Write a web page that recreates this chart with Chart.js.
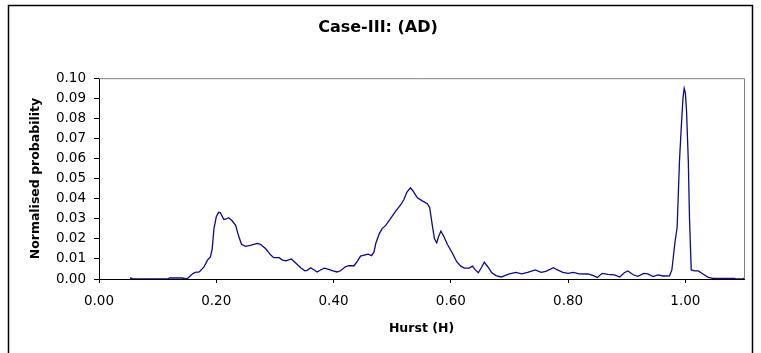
<!DOCTYPE html>
<html>
<head>
<meta charset="utf-8">
<script src="https://cdn.jsdelivr.net/npm/chart.js@4.4.1/dist/chart.umd.min.js"></script>
<style>
  html, body { margin: 0; padding: 0; background: #fff; }
</style>
</head>
<body>
<canvas id="hurstChart" width="761" height="353"></canvas>
<script>
// Hurst exponent values (x) and normalised probability (y)
var hurstValues = [
    0.053, 0.058, 0.065, 0.118, 0.120, 0.142, 0.150, 0.159, 0.164, 0.171,
    0.179, 0.185, 0.190, 0.193, 0.196, 0.200, 0.204, 0.207, 0.213, 0.217,
    0.221, 0.227, 0.233, 0.238, 0.243, 0.250, 0.258, 0.270, 0.275, 0.284,
    0.293, 0.298, 0.307, 0.313, 0.319, 0.328, 0.335, 0.344, 0.351, 0.355,
    0.361, 0.367, 0.372, 0.378, 0.384, 0.392, 0.399, 0.406, 0.412, 0.420,
    0.426, 0.435, 0.441, 0.446, 0.454, 0.459, 0.465, 0.469, 0.472, 0.478,
    0.483, 0.489, 0.498, 0.506, 0.515, 0.520, 0.525, 0.531, 0.535, 0.543,
    0.552, 0.560, 0.564, 0.568, 0.572, 0.576, 0.579, 0.583, 0.588, 0.594,
    0.603, 0.610, 0.617, 0.623, 0.631, 0.637, 0.641, 0.647, 0.653, 0.657,
    0.663, 0.670, 0.677, 0.686, 0.691, 0.700, 0.711, 0.721, 0.731, 0.744,
    0.754, 0.762, 0.775, 0.782, 0.791, 0.800, 0.809, 0.819, 0.834, 0.842,
    0.850, 0.858, 0.868, 0.879, 0.888, 0.896, 0.902, 0.911, 0.919, 0.929,
    0.936, 0.945, 0.953, 0.962, 0.973, 0.977, 0.982, 0.986, 0.990, 0.993,
    0.996, 0.998, 1.000, 1.002, 1.005, 1.007, 1.010, 1.016, 1.022, 1.030,
    1.039, 1.047, 1.084, 1.087, 1.098, 1.101
];
var probValues = [
    0.0005, 0.0002, 0, 0, 0.0005, 0.0005, 0, 0.0025, 0.0033, 0.0035,
    0.0060, 0.0094, 0.0110, 0.0149, 0.0250, 0.0310, 0.0332, 0.0330, 0.0296, 0.0299,
    0.0305, 0.0290, 0.0267, 0.0215, 0.0173, 0.0163, 0.0168, 0.0177, 0.0173, 0.0152,
    0.0119, 0.0106, 0.0106, 0.0094, 0.0090, 0.0100, 0.0081, 0.0056, 0.0041, 0.0043,
    0.0056, 0.0045, 0.0035, 0.0045, 0.0054, 0.0048, 0.0041, 0.0035, 0.0041, 0.0061,
    0.0066, 0.0066, 0.0090, 0.0114, 0.0120, 0.0124, 0.0116, 0.0135, 0.0177, 0.0226,
    0.0251, 0.0267, 0.0304, 0.0338, 0.0371, 0.0396, 0.0432, 0.0454, 0.0441, 0.0404,
    0.0388, 0.0375, 0.0355, 0.0276, 0.0201, 0.0180, 0.0210, 0.0238, 0.0213, 0.0173,
    0.0127, 0.0086, 0.0064, 0.0054, 0.0054, 0.0064, 0.0048, 0.0031, 0.0061, 0.0084,
    0.0061, 0.0031, 0.0017, 0.0010, 0.0016, 0.0026, 0.0033, 0.0026, 0.0033, 0.0045,
    0.0033, 0.0038, 0.0056, 0.0045, 0.0033, 0.0028, 0.0033, 0.0026, 0.0025, 0.0018,
    0.0008, 0.0028, 0.0023, 0.0021, 0.0010, 0.0031, 0.0040, 0.0021, 0.0013, 0.0028,
    0.0025, 0.0012, 0.0020, 0.0015, 0.0016, 0.0045, 0.0177, 0.0259, 0.0590, 0.0754,
    0.0903, 0.0949, 0.0927, 0.0837, 0.0590, 0.0308, 0.0045, 0.0040, 0.0040, 0.0025,
    0.0008, 0.0003, 0.0003, 0, 0, 0.0005
];
var xTickStep = 0.2;
var yTickStep = 0.01;

var points = hurstValues.map(function (h, i) {
    return { x: h, y: probValues[i] };
});

// outer frame + grey top/right plot border
var framePlugin = {
    id: "frame",
    afterDraw: function (chart) {
        var ctx = chart.ctx;
        var a = chart.chartArea;
        ctx.save();
        ctx.strokeStyle = "#808080";
        ctx.lineWidth = 1;
        ctx.beginPath();
        ctx.moveTo(a.left, a.top + 0.5);
        ctx.lineTo(a.right + 0.5, a.top + 0.5);
        ctx.lineTo(a.right + 0.5, a.bottom);
        ctx.stroke();
        ctx.strokeStyle = "#000";
        ctx.lineWidth = 1.5;
        ctx.strokeRect(8.5, 5.5, 744, 400);
        ctx.restore();
    }
};

var ctx = document.getElementById("hurstChart").getContext("2d");
var hurstChart = new Chart(ctx, {
    type: "line",
    data: {
        datasets: [{
            label: "Case-III: (AD)",
            data: points,
            borderColor: "#0a0a8a",
            borderWidth: 1.3,
            pointRadius: 0,
            tension: 0,
            fill: false
        }]
    },
    options: {
        responsive: false,
        animation: false,
        devicePixelRatio: 1,
        layout: { padding: { left: 12, right: 17, top: 0, bottom: 0 } },
        plugins: {
            legend: { display: false },
            tooltip: { enabled: false },
            title: {
                display: true,
                text: "Case-III: (AD)",
                color: "#000",
                font: { family: "DejaVu Sans", size: 16, weight: "bold" },
                padding: { top: 18, bottom: 41 }
            }
        },
        scales: {
            x: {
                type: "linear",
                min: 0,
                max: 1.1,
                grid: { display: true, drawOnChartArea: false, drawTicks: true, tickLength: 4, color: "#000" },
                border: { display: true, color: "#000", width: 1 },
                ticks: {
                    stepSize: xTickStep,
                    includeBounds: false,
                    autoSkip: false,
                    maxRotation: 0,
                    padding: 10,
                    color: "#000",
                    font: { family: "DejaVu Sans", size: 13.5 },
                    callback: function (v) { return Number(v).toFixed(2); }
                },
                title: {
                    display: true,
                    text: "Hurst (H)",
                    color: "#000",
                    font: { family: "DejaVu Sans", size: 12.5, weight: "bold" },
                    padding: { top: 0, bottom: 17 }
                },
                afterFit: function (scale) { scale.height = 74; }
            },
            y: {
                min: 0,
                max: 0.1,
                grid: { display: true, drawOnChartArea: false, drawTicks: true, tickLength: 5, color: "#000" },
                border: { display: true, color: "#000", width: 1 },
                ticks: {
                    stepSize: yTickStep,
                    autoSkip: false,
                    padding: 8,
                    color: "#000",
                    font: { family: "DejaVu Sans", size: 13.5 },
                    callback: function (v) { return Number(v).toFixed(2); }
                },
                title: {
                    display: true,
                    text: "Normalised probability",
                    color: "#000",
                    font: { family: "DejaVu Sans", size: 12.5, weight: "bold" },
                    padding: { top: 16, bottom: 0 }
                },
                afterFit: function (scale) { scale.width = 87; }
            }
        }
    },
    plugins: [framePlugin]
});
</script>
</body>
</html>
